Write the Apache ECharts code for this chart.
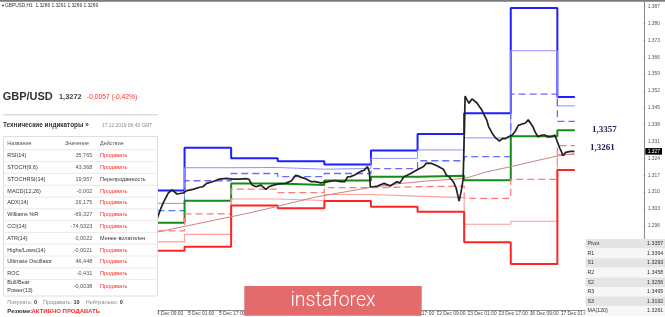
<!DOCTYPE html>
<html><head><meta charset="utf-8">
<script src="https://cdn.jsdelivr.net/npm/echarts@6/dist/echarts.min.js"></script>
<style>html,body{margin:0;padding:0;background:#fff}#c{width:665px;height:317px}</style>
</head><body><div id="c"></div>
<script>
// ---- data ----
const xLabels = ['4 Dec 09:00','5 Dec 01:00','5 Dec 17:00','6 Dec 09:00','9 Dec 01:00','9 Dec 17:00','10 Dec 09:00','11 Dec 01:00','11 Dec 17:00','12 Dec 09:00','13 Dec 01:00','13 Dec 17:00','16 Dec 09:00','17 Dec 01:00'];
const yTicks = [1.296,1.303,1.310,1.317,1.324,1.331,1.338,1.345,1.352,1.359,1.366,1.373,1.380,1.387];
const dayStarts = [-0.5,13.5,37.5,61.5,85.5,109.5,133.5,157.5,181.5,205.5];
const lastBar = 214.5;
const R3 = [1.3106,1.3284,1.3240,1.3228,1.3215,1.3273,1.3341,1.3427,1.3865,1.3495];
const R2 = [1.3053,1.3201,1.3202,1.3195,1.3198,1.3240,1.3275,1.3325,1.3687,1.3458];
const R1 = [1.3023,1.3147,1.3177,1.3164,1.3177,1.3197,1.3230,1.3247,1.3507,1.3394];
const PP = [1.2973,1.3064,1.3136,1.3129,1.3148,1.3164,1.3168,1.3149,1.3332,1.3357];
const S1 = [1.2939,1.3009,1.3112,1.3098,1.3118,1.3122,1.3125,1.3074,1.3153,1.3293];
const S2 = [1.2893,1.2924,1.3071,1.3065,1.3090,1.3083,1.3077,1.2966,1.2979,1.3256];
const S3 = [1.2856,1.2873,1.3044,1.3033,1.3063,1.3039,1.3018,1.2891,1.2801,1.3192];
const maBars = [-0.5,12.7,46.7,56.9,80.8,107.7,122.9,138.1,153.4,158.5,168.6,181.8,194,205.7,214.3];
const maVals = [1.2934,1.2956,1.3013,1.3032,1.3079,1.3117,1.3134,1.3146,1.3154,1.3158,1.3183,1.3206,1.3229,1.3250,1.3260];
const priceBars = [-0.5,1.0,2.5,5.1,7.1,9.6,12.7,14.7,17.8,21.3,22.9,24.9,27.9,31.5,35.0,38.1,41.6,45.2,46.7,48.3,50.3,52.8,55.4,56.9,59.4,62.0,65.5,68.6,70.6,72.1,73.6,75.7,78.7,80.8,83.8,87.4,90.9,94.0,96.0,97.5,99.0,101.1,102.6,104.1,106.2,107.7,108.7,109.2,111.2,112.8,116.3,119.4,122.9,124.4,126.5,129.5,133.1,136.6,138.1,140.7,143.2,146.8,148.3,149.8,151.9,153.4,154.4,154.9,155.9,157.0,158.0,159.0,160.0,161.5,162.5,164.1,165.1,166.6,167.6,169.1,170.1,172.2,173.7,175.7,177.3,178.8,180.3,182.3,183.9,185.4,187.4,188.9,190.5,191.5,193.0,194.0,195.5,197.6,199.1,200.6,202.7,204.2,205.2,206.7,207.7,208.3,209.8,210.8,212.3,213.3,214.3];
const priceVals = [1.2992,1.3026,1.3055,1.3096,1.3109,1.3092,1.3096,1.3106,1.3111,1.3120,1.3122,1.3136,1.3143,1.3154,1.3157,1.3154,1.3154,1.3156,1.3153,1.3129,1.3122,1.3129,1.3111,1.3122,1.3129,1.3134,1.3136,1.3147,1.3169,1.3167,1.3161,1.3156,1.3143,1.3143,1.3138,1.3143,1.3148,1.3143,1.3143,1.3163,1.3164,1.3171,1.3178,1.3185,1.3192,1.3206,1.3183,1.3122,1.3123,1.3125,1.3136,1.3125,1.3143,1.3138,1.3164,1.3175,1.3192,1.3206,1.3220,1.3219,1.3210,1.3195,1.3171,1.3163,1.3143,1.3116,1.3080,1.3063,1.3100,1.3154,1.3499,1.3483,1.3469,1.3487,1.3490,1.3470,1.3466,1.3441,1.3424,1.3400,1.3372,1.3341,1.3325,1.3312,1.3323,1.3322,1.3330,1.3337,1.3354,1.3377,1.3383,1.3386,1.3400,1.3407,1.3370,1.3350,1.3330,1.3337,1.3337,1.3329,1.3330,1.3337,1.3337,1.3283,1.3266,1.3251,1.3265,1.3272,1.3269,1.3261,1.3269];
const lastPrice = 1.3269;
const headerText = 'GBPUSD,H1  1.3286 1.3291 1.3269 1.3269';
const indNames = ['RSI(14)','STOCH(9,6)','STOCHRSI(14)','MACD(12,26)','ADX(14)','Williams %R','CCI(14)','ATR(14)','Highs/Lows(14)','Ultimate Oscillator','ROC','Bull/Bear\nPower(13)'];
const indValues = ['35,765','43,368','19,957','-0,002','26,175','-69,327','-74,9323','0,0022','-0,0021','46,448','-0,431','-0,0038'];
const indActions = ['Продавать','Продавать','Перепроданность','Продавать','Продавать','Продавать','Продавать','Менее волатилен','Продавать','Продавать','Продавать','Продавать'];
const pivotNames = ['Pivot','R1','S1','R2','S2','R3','S3','MA(120)'];
const pivotValues = ['1.3357','1.3394','1.3293','1.3458','1.3256','1.3495','1.3192','1.3261'];
const chartLabels = ['1,3357','1,3261'];

// ---- build ----
function stepData(levels){
  const d = dayStarts.map((b,i)=>[b, levels[i]]);
  d.push([lastBar, levels[levels.length-1]]);
  return d;
}
function pivotSeries(levels, color, width, type){
  return {type:'line', step:'end', data:stepData(levels), symbol:'none', silent:true,
    lineStyle:{color, width, type:type||'solid'}, z:2};
}
const SANS = '"Liberation Sans", Arial, sans-serif';
const g = [];
function txt(x,y,text,font,fill,align,extra){
  const st = {text, font, fill, align:align||'left', verticalAlign:'middle', textAlign:align||'left', textVerticalAlign:'middle'};
  if (extra) Object.assign(st, extra);
  g.push({type:'text', x, y, z:120, silent:true, style:st});
}
function rect(x,y,w,h,fill,stroke,z){
  g.push({type:'rect', z:z||100, silent:true, shape:{x,y,width:w,height:h}, style:{fill, stroke:stroke||null, lineWidth:stroke?1:0}});
}
function hline(x1,x2,y,stroke,w){
  g.push({type:'line', z:110, silent:true, shape:{x1,y1:y,x2,y2:y}, style:{stroke, lineWidth:w||1}});
}
function vline(x,y1,y2,stroke,w){
  g.push({type:'line', z:110, silent:true, shape:{x1:x,y1,x2:x,y2}, style:{stroke, lineWidth:w||1}});
}

// top border
rect(0,0,665,1.8,'#7a7a7a');
// header
txt(1,5.5,'▼',`4px ${SANS}`,'#333');
txt(5,5.5,headerText,`4.8px ${SANS}`,'#333');
// left panel background
rect(0,12,157.5,305,'#ffffff');
txt(2.7,96.7,'GBP/USD',`bold 11px ${SANS}`,'#333');
txt(59,97.2,'1,3272',`bold 7.4px ${SANS}`,'#444');
txt(87,97.2,'-0,0057 (-0,42%)',`6.7px ${SANS}`,'#ff2b2b');
rect(3,114,154.5,1.6,'#dcdcdc',null,105);
txt(3,125.5,'Технические индикаторы »',`bold 6.4px ${SANS}`,'#333');
txt(102,125.5,'17.12.2019 06:43 GMT',`4.9px ${SANS}`,'#8a8a8a');
// table
rect(3.5,136.5,154,159.5,'#ffffff','#dedede',105);
const hdrY = 143.3;
txt(7.3,hdrY,'Название',`5.4px ${SANS}`,'#555');
txt(65,hdrY,'Значение',`5.4px ${SANS}`,'#555');
txt(100,hdrY,'Действие',`5.4px ${SANS}`,'#555');
for (let k=0;k<12;k++) hline(3.5,157.5,149.8+11.8*k,'#e4e4e4',0.8);
indNames.forEach((n,i)=>{
  const y = i<11 ? 155.7+11.8*i : 286.2;
  txt(7.3,y,n,`5.5px ${SANS}`,'#333','left',{lineHeight:7.7});
  txt(92.3,y,indValues[i],`5.5px ${SANS}`,'#555','right');
  const a = indActions[i];
  txt(100,y,a,`5.5px ${SANS}`, a==='Продавать' ? '#ff2b2b' : '#333');
});
g.push({type:'text', x:7.3, y:302.3, z:120, silent:true, style:{
  text:'{a|Покупать:} {b|0}    {a|Продавать:} {b|10}    {a|Нейтрально:} {b|0}',
  verticalAlign:'middle', textVerticalAlign:'middle', font:`5.5px ${SANS}`,
  rich:{a:{font:`5.5px ${SANS}`, fill:'#888', color:'#888'}, b:{font:`bold 5.5px ${SANS}`, fill:'#333', color:'#333'}}}});
txt(7.3,311.7,'Резюме:',`bold 6px ${SANS}`,'#333');
txt(31.5,311.7,'АКТИВНО ПРОДАВАТЬ',`bold 6px ${SANS}`,'#ff2b2b');

// chart value labels
txt(592,129.7,chartLabels[0],'bold 9px "Liberation Serif", serif','#1d1d50');
txt(590,147.6,chartLabels[1],'bold 9px "Liberation Serif", serif','#1d1d50');

// logo
rect(244.3,286,177.4,29.7,'#e46b6b',null,115);
txt(333,300.8,'instaforex',`300 19.5px Roboto, sans-serif`,'#ffffff','center');

// pivot table
const pX = 585.5, pY = 239, pH = 9.6;
rect(pX,pY,80,pH*8,'#ffffff',null,115);
pivotNames.forEach((n,i)=>{
  const y = pY + pH*i;
  rect(pX, y, 80, pH, i%2===0 ? '#e4e4e4' : '#f7f7f7', null, 116);
  txt(587.5, y+pH/2, n, `5.3px ${SANS}`, '#333');
  txt(663.3, y+pH/2, pivotValues[i], `5.3px ${SANS}`, '#333', 'right');
});
vline(624.3,pY,pY+pH*8,'#ffffff',1);
for (let i=1;i<8;i++) hline(pX,665,pY+pH*i,'#ffffff',0.6);

const option = {
  animation:false,
  backgroundColor:'#ffffff',
  grid:{left:0.5, right:14.7, top:2, bottom:7},
  xAxis:{type:'value', min:-80, max:250, interval:16,
    axisLine:{show:true, onZero:false, lineStyle:{color:'#8a8a8a', width:1}},
    axisTick:{show:true, length:2, lineStyle:{color:'#8a8a8a'}},
    splitLine:{show:false},
    axisLabel:{show:true, fontSize:4.9, color:'#444', fontFamily:'Liberation Sans', margin:1, align:'left', padding:[0,0,0,-1.5],
      formatter:(v)=>{ const i = Math.round(v/16); return (i>=0 && i<xLabels.length) ? xLabels[i] : ''; }}
  },
  yAxis:[{type:'value', position:'right', min:1.261, max:1.38896, scale:true,
    axisLine:{show:true, onZero:false, lineStyle:{color:'#8a8a8a', width:1}},
    axisTick:{show:true, length:1.5, lineStyle:{color:'#8a8a8a'}, customValues:yTicks},
    splitLine:{show:false},
    axisLabel:{show:true, fontSize:4.9, color:'#555', fontFamily:'Liberation Sans', margin:4, customValues:yTicks,
      formatter:(v)=>v.toFixed(3)}
  },{type:'value', position:'right', min:1.261, max:1.38896, scale:true,
    axisLine:{show:false, onZero:false}, axisTick:{show:false}, splitLine:{show:false},
    axisLabel:{show:true, fontSize:4.9, color:'#fff', backgroundColor:'#000', padding:[0.8,2,0.8,2.5], margin:1.5, fontFamily:'Liberation Sans',
      customValues:[lastPrice], formatter:(v)=>v.toFixed(3)}
  }],
  series:[
    pivotSeries(R3,'#1f1fff',2),
    pivotSeries(R2,'#8f8fff',1),
    pivotSeries(R1,'#6b6bff',1.3,[7,4]),
    pivotSeries(PP,'#168c16',2),
    pivotSeries(S1,'#ff7a7a',1.3,[7,4]),
    pivotSeries(S2,'#ff9d9d',1.1),
    pivotSeries(S3,'#ff2424',2),
    {type:'line', data:maBars.map((b,i)=>[b,maVals[i]]), symbol:'none', silent:true, lineStyle:{color:'#c98585', width:1}, z:3},
    {type:'line', data:priceBars.map((b,i)=>[b,priceVals[i]]), symbol:'none', silent:true, lineStyle:{color:'#222222', width:1.7}, z:4}
  ],
  graphic:{elements:g}
};
const chart = echarts.init(document.getElementById('c'), null, {renderer:'canvas'});
chart.setOption(option);
</script></body></html>
